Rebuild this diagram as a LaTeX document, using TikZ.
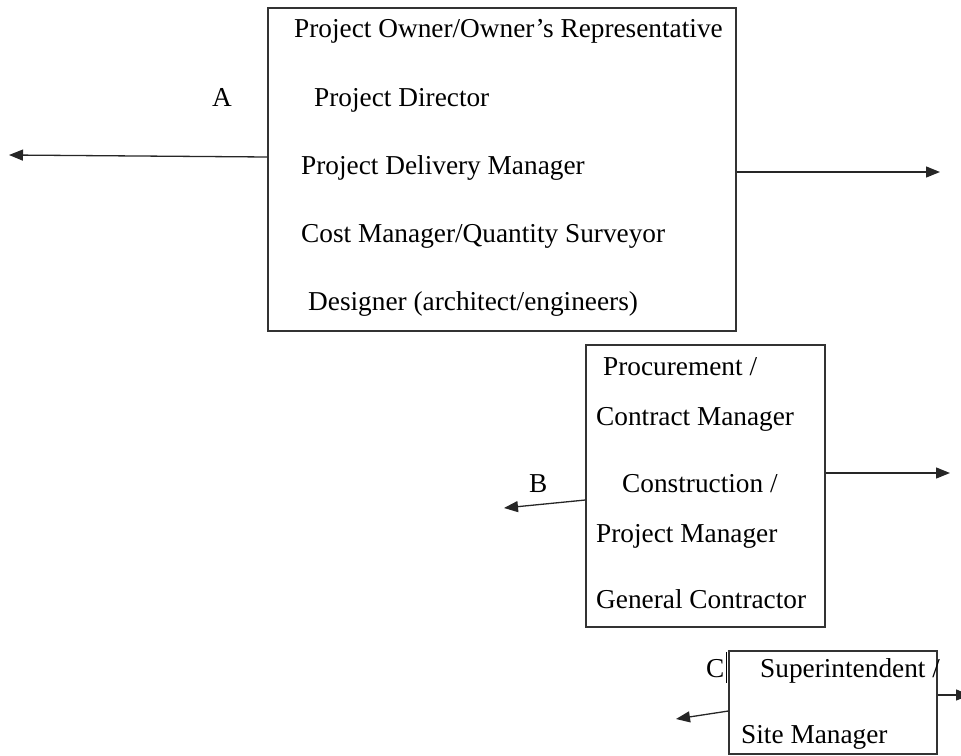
\documentclass[tikz,border=0pt]{standalone}
\usepackage{fontspec}
\setmainfont{Liberation Serif}
\usetikzlibrary{arrows.meta}

\begin{document}
\begin{tikzpicture}[x=1pt,y=-1pt,
  main box/.style={rectangle,draw=black!80,line width=1.2pt,inner sep=0pt},
  role/.style={anchor=base west,inner sep=0pt,font=\fontsize{27.3}{32}\selectfont},
  link/.style={draw=black!85,line width=1.3pt,-{Triangle[length=14pt,width=11pt]}}]
  \useasboundingbox (0,0) rectangle (961,755);

  % boxes
  \node[main box, minimum width=468pt, minimum height=323pt] (owner) at (502,169.5) {};
  \node[main box, minimum width=239pt, minimum height=282pt] (contractor) at (705.5,486) {};
  \node[main box, minimum width=208pt, minimum height=103pt] (site) at (833,702.5) {};

  % owner side
  \node[role] (o1) at (294,37) {Project Owner/Owner’s Representative};
  \node[role] (o2) at (314,106) {Project Director};
  \node[role] (o3) at (301,174) {Project Delivery Manager};
  \node[role] (o4) at (301,242) {Cost Manager/Quantity Surveyor};
  \node[role] (o5) at (308,310) {Designer (architect/engineers)};
  \node[role] (A) at (212,106) {A};

  % contractor side
  \node[role] (c1) at (603,375) {Procurement /};
  \node[role] (c2) at (596,425) {Contract Manager};
  \node[role] (c3) at (622,492) {Construction /};
  \node[role] (c4) at (596,542) {Project Manager};
  \node[role] (c5) at (596,608) {General Contractor};
  \node[role] (B) at (529,492) {B};

  % site
  \node[role] (s1) at (760,677) {Superintendent /};
  \node[role] (s2) at (741,743) {Site Manager};
  \node[role] (C) at (706,677) {C};
  \draw[line width=0.7pt] ([xshift=1.5pt,yshift=25pt]C.base east) -- ++(0,-31pt);

  \coordinate (tipA) at (9,155);
  \coordinate (tipO) at (940,172);
  \coordinate (tipB) at (504,508);
  \coordinate (tipC) at (950,473);
  \coordinate (tipS) at (676,719);
  \coordinate (tipR) at (970,695);

  \draw[link] ([yshift=12.5pt]owner.west) -- (tipA);
  \draw[link] ([yshift=-2.5pt]owner.east) -- (tipO);
  \draw[link] ([yshift=-14pt]contractor.west) -- (tipB);
  \draw[link] ([yshift=13pt]contractor.east) -- (tipC);
  \draw[link] ([yshift=-8.5pt]site.west) -- (tipS);
  \draw[link] ([yshift=7.5pt]site.east) -- (tipR);
\end{tikzpicture}
\end{document}
